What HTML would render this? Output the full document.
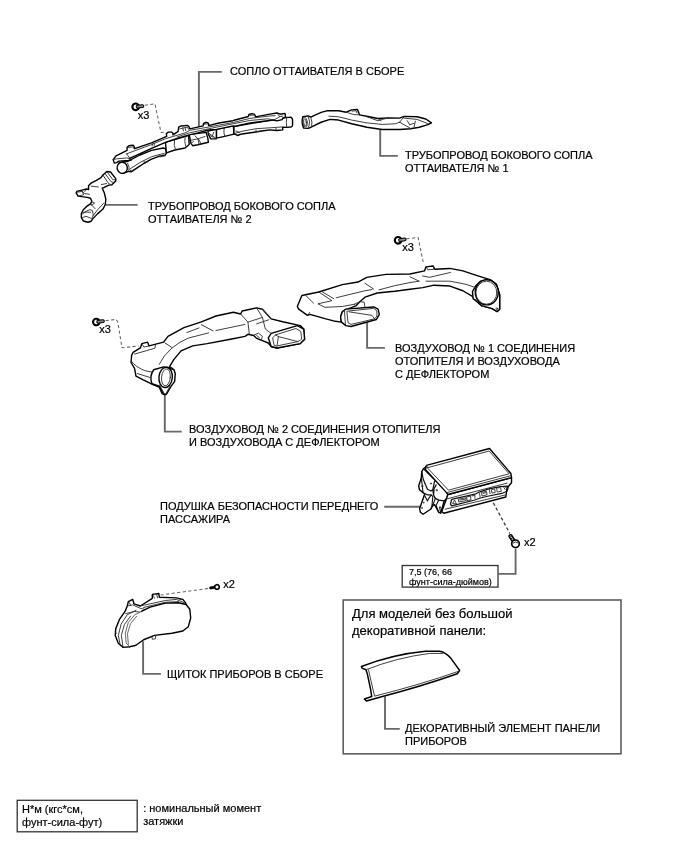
<!DOCTYPE html>
<html><head><meta charset="utf-8">
<style>
html,body{margin:0;padding:0;background:#fff;}
body{width:688px;height:852px;overflow:hidden;font-family:"Liberation Sans",sans-serif;}
svg{display:block;position:absolute;left:0;top:0;}
text{font-family:"Liberation Sans",sans-serif;fill:#000;stroke:#000;stroke-width:0.2px;}
.t{font-size:11px;}
.s{font-size:9px;}
.b{font-size:13px;}
.l{stroke:#686868;stroke-width:1.9;fill:none;}
.d{stroke:#666;stroke-width:1.05;fill:none;stroke-dasharray:3.2 2.4;}
.p{vector-effect:non-scaling-stroke;stroke:#000;stroke-width:1.4;fill:#fff;stroke-linejoin:round;stroke-linecap:round;}
.n{vector-effect:non-scaling-stroke;stroke:#2a2a2a;stroke-width:0.9;fill:none;stroke-linejoin:round;stroke-linecap:round;}
.box{stroke:#333;stroke-width:1.3;fill:none;}
</style></head>
<body>
<svg style="will-change:transform;filter:grayscale(1)" width="688" height="852" viewBox="0 0 688 852">
<!-- TEXT -->
<g id="labels">
<text class="t" x="230" y="74.8">СОПЛО ОТТАИВАТЕЛЯ В СБОРЕ</text>
<text class="t" x="137.7" y="118.5">x3</text>
<text class="t" x="405" y="158.8">ТРУБОПРОВОД БОКОВОГО СОПЛА</text>
<text class="t" x="405" y="171.8">ОТТАИВАТЕЛЯ № 1</text>
<text class="t" x="148" y="209.8">ТРУБОПРОВОД БОКОВОГО СОПЛА</text>
<text class="t" x="148" y="222.7">ОТТАИВАТЕЛЯ № 2</text>
<text class="t" x="402.2" y="250.5">x3</text>
<text class="t" x="99.2" y="332.5">x3</text>
<text class="t" x="395" y="351.7">ВОЗДУХОВОД № 1 СОЕДИНЕНИЯ</text>
<text class="t" x="395" y="364.7">ОТОПИТЕЛЯ И ВОЗДУХОВОДА</text>
<text class="t" x="395" y="377.7">С ДЕФЛЕКТОРОМ</text>
<text class="t" x="189" y="432.8">ВОЗДУХОВОД № 2 СОЕДИНЕНИЯ ОТОПИТЕЛЯ</text>
<text class="t" x="189" y="445.8">И ВОЗДУХОВОДА С ДЕФЛЕКТОРОМ</text>
<text class="t" x="160" y="509.7">ПОДУШКА БЕЗОПАСНОСТИ ПЕРЕДНЕГО</text>
<text class="t" x="160" y="522.7">ПАССАЖИРА</text>
<text class="t" x="524" y="545.8">x2</text>
<text class="t" x="223.2" y="588">x2</text>
<text class="s" x="409" y="574.6">7,5 (76, 66</text>
<text class="s" x="409" y="585.2">фунт-сила-дюймов)</text>
<text class="b" x="352" y="618">Для моделей без большой</text>
<text class="b" x="352" y="634.6">декоративной панели:</text>
<text class="t" x="167" y="678">ЩИТОК ПРИБОРОВ В СБОРЕ</text>
<text class="t" x="405" y="731.7">ДЕКОРАТИВНЫЙ ЭЛЕМЕНТ ПАНЕЛИ</text>
<text class="t" x="405" y="745.3">ПРИБОРОВ</text>
<text class="t" x="22" y="812.7">Н*м (кгс*см,</text>
<text class="t" x="22" y="826">фунт-сила-фут)</text>
<text class="t" x="143.2" y="812">: номинальный момент</text>
<text class="t" x="143.2" y="824.8">затяжки</text>
</g>
<!-- BOXES -->
<g id="boxes">
<rect class="box" x="402.2" y="565.5" width="95.8" height="21.6"/>
<rect class="box" style="stroke:#5e5e5e;stroke-width:1.6" x="343.2" y="600" width="277.8" height="153.8"/>
<rect class="box" x="17.2" y="800.3" width="120" height="31.5"/>
</g>
<!-- LEADERS -->
<g id="leaders">
<path class="l" d="M221.8 71.85 H198.9 V126.5"/>
<path class="l" d="M397.8 155.9 H380.2 V129"/>
<path class="l" d="M137.6 204.9 H105.5"/>
<path class="l" d="M384.9 347.9 H367.1 V322.3"/>
<path class="l" d="M181.7 431.6 H164.8 V395"/>
<path class="l" d="M384.2 506.8 H420.3"/>
<path class="l" d="M498 573.9 H515.6 V549"/>
<path class="l" d="M160.9 673.9 H143.1 V641.2"/>
<path class="l" d="M399.8 728.9 H385 V696.5"/>
</g>
<!-- DRAWINGS -->
<!-- PART1: defroster nozzle. A-frame origin(105,130) scale 8.6 -->
<g id="p1" transform="translate(105,130) scale(0.11628)">
<!-- left cylinder + duct -->
<path class="p" d="M148 277 L195 270 L300 215 L400 175 L500 155 L520 160 L528 195 L520 215 L470 225 L400 250 L330 290 L270 330 L225 360 L205 356 L148 373 Z"/>
<ellipse class="p" cx="148" cy="325" rx="44" ry="48" transform="rotate(-10 148 325)"/>
<path class="n" d="M195 285 Q215 320 205 356 M215 335 L300 280 L400 230 L510 200 M215 342 L224 354 L250 340 M335 268 L346 286 L372 270 M466 222 L470 232 L518 222"/>
<!-- left box section -->
<path class="p" d="M520 105 L719 45 L724 125 L689 155 L600 172 L528 197 Z"/>
<path class="n" d="M598 90 Q588 135 606 168 M689 60 Q680 100 694 140"/>
<!-- center drop -->
<path class="p" d="M724 40 L739 115 L754 135 L799 127 L889 105 L884 70 L870 20 Z"/>
<path class="n" d="M739 88 L799 76 L809 122 M799 76 L860 56 M774 50 L809 85 L824 116 M745 110 L760 100"/>
<!-- brackets -->
<path class="p" d="M885 10 L889 35 L909 76 L954 76 L959 65 L959 -5 Z"/>
<path class="n" d="M889 25 L924 50 L954 72 M899 46 L930 62 M924 50 L935 20"/>
<!-- right box -->
<path class="p" d="M959 -5 L1104 -35 L1109 35 L1029 55 L959 70 Z"/>
<path class="n" d="M1024 -18 Q1018 20 1029 55"/>
<!-- right duct + cylinder -->
<path class="p" d="M1109 -30 L1448 -90 L1553 -106 L1598 -111 Q1614 -100 1613 -86 L1613 -41 Q1612 -30 1598 -26 L1563 -23 L1528 -24 L1528 -1 L1478 4 L1418 -1 L1348 9 L1298 17 L1178 34 L1139 47 L1109 32 Z"/>
<path class="n" d="M1118 29 L1178 11 L1298 -11 L1418 -19 L1523 -26 M1563 -108 Q1556 -65 1563 -23 M1298 -1 L1302 14 L1346 8 M1470 -14 L1474 2 M1125 8 L1160 24"/>
<!-- rail -->
<path class="p" d="M95 222 L190 175 L190 148 L205 135 L240 130 L250 140 L255 160 L400 110 L530 55 L528 30 L545 18 L575 18 L585 30 L585 42 L629 12 L634 -25 L654 -35 L709 -40 L724 -25 L729 -10 L844 -35 L847 -55 L864 -65 L884 -63 L891 -50 L891 -37 L979 -60 L1099 -80 L1118 -86 L1233 -116 L1238 -133 L1263 -141 L1283 -136 L1293 -121 L1293 -113 L1418 -136 L1478 -146 L1508 -136 L1548 -143 L1553 -111 L1528 -101 L1523 -89 L1478 -79 L1448 -86 L1398 -79 L1248 -61 L1118 -33 L1104 -35 L959 -5 L889 0 L799 25 L724 42 L620 72 L525 104 L400 158 L260 222 L210 245 L225 258 L200 262 L120 268 L100 280 L80 285 L70 255 Z"/>
<path class="n" d="M185 205 L400 125 L520 75 L688 25 L729 3 L889 -25 L1104 -65 L1247 -100 L1418 -121 L1463 -123"/>
<path class="n" d="M620 60 L724 25 L889 -10 L1109 -55 L1248 -82 L1398 -96 L1448 -86 M405 137 L410 118 M420 112 L425 132"/>
<path class="n" d="M70 255 L100 248 L185 240 L210 245 M185 205 L225 258"/>
<path class="n" d="M200 150 L240 145 L250 160 M644 -10 L709 -25 L719 -5 M669 -20 L674 8 M689 -23 L694 5 M855 -50 L880 -52 M1246 -126 L1278 -128 M1478 -146 L1503 -115 L1470 -95 L1448 -86 M1503 -115 L1530 -120"/>
</g>

<!-- PART2: side duct no.1. zoom origin(295,95) scale 4.587 -->
<g id="p2" transform="translate(295,95) scale(0.21802)">
<path class="p" d="M36 100 L60 96 L72 101 L120 80 L150 72 L200 72 L235 79 L260 68 L286 66 L292 80 L296 91 L340 100 L380 108 L430 105 L480 106 L500 98 L560 100 L600 110 L626 128 L610 136 L570 148 L530 155 L480 158 L400 158 L330 148 L260 132 L200 115 L160 112 L120 125 L76 146 L62 153 L40 152 Q28 128 36 100 Z"/>
<ellipse class="n" cx="46" cy="125" rx="10" ry="24" transform="rotate(-8 46 125)"/>
<ellipse class="n" cx="46" cy="126" rx="6" ry="17" transform="rotate(-8 46 126)"/>
<path class="n" d="M60 96 Q74 122 62 153 M72 101 Q82 124 76 146"/>
<path class="n" d="M155 97 L200 100 L260 115 L330 128 L400 135 L460 132 L480 125"/>
<path class="n" d="M235 79 L270 90 L296 91 M262 74 L280 72 L284 82 M330 100 L380 118 L400 112 L430 105 M380 108 L395 118"/>
<path class="n" d="M480 125 L500 100 M480 125 L530 153 M500 106 L560 112 L612 132 M515 118 L526 136 M552 120 L546 148 M526 136 L546 130"/>
</g>

<!-- PART3: side duct no.2. zoom origin(65,160) scale 7.644 -->
<g id="p3" transform="translate(65,160) scale(0.13082)">
<path class="p" d="M320 88 L348 92 L388 142 L388 160 L358 190 L335 192 L300 210 L285 216 L300 250 L312 300 L308 340 L290 375 L250 410 L212 450 L200 468 L175 476 L140 466 L125 440 L125 410 L140 380 L165 355 L195 335 L205 315 L195 292 L170 286 L140 282 L100 276 L85 252 L90 240 L130 230 L165 222 L180 226 L180 196 L200 176 L240 155 L275 135 L290 115 Z"/>
<path class="n" d="M290 116 L335 182 L358 190 M305 102 L352 166 L374 172 M320 88 L365 150 L388 152"/>
<path class="n" d="M200 200 L255 206 M278 188 L318 180"/>
<path class="n" d="M96 246 L130 240 L150 256 L186 262 M130 232 L142 266 L100 276 M150 240 L160 232"/>
<path class="n" d="M130 416 L150 396 L190 380 L210 386 L216 420 L206 446 M134 440 L160 430 L200 446 M140 404 L165 398 L195 400"/>
<path class="n" d="M216 424 L250 380 L296 330 M205 320 L226 330 L200 346 M195 335 L230 372"/>
</g>

<!-- PART4: air duct no.1. zoom origin(290,255) scale 5.733 -->
<g id="p4" transform="translate(290,255) scale(0.17443)">
<path class="p" d="M68 232 L165 212 L300 170 L390 155 L440 128 L551 111 L688 109 L771 91 L780 68 L821 63 L830 82 L917 77 L991 91 L1073 118 L1147 141 L1183 168 L1202 228 L1202 311 L1188 324 L1156 306 L1101 292 L1059 256 L1046 237 L991 205 L917 178 L826 173 L761 187 L688 196 L600 208 L500 218 L430 242 L400 268 L380 290 L330 310 L300 325 L290 355 L295 385 L250 378 L200 365 L115 340 L100 346 L50 310 L42 295 Z"/>
<!-- round outlet -->
<path class="p" d="M1064 178 L1092 150 L1147 141 L1183 168 L1202 228 L1202 311 L1188 324 L1156 306 L1101 292 L1059 256 L1050 251 L1046 210 Z"/>
<ellipse class="p" cx="1128" cy="214" rx="66" ry="72"/>
<ellipse class="n" cx="1126" cy="216" rx="60" ry="66"/>
<circle class="n" cx="1186" cy="308" r="5"/>
<!-- creases -->
<path class="n" d="M165 212 L240 262 L160 280 L200 300 L300 295 L372 282"/>
<path class="n" d="M180 208 L250 250 M265 245 L430 205 L470 198 M510 200 L600 176 L688 158 L740 150 M780 150 L917 150 L1009 168 L1064 187"/>
<path class="n" d="M90 232 L135 276 M430 162 L480 196 M760 120 L800 128 L920 100 M100 346 L112 330 M688 125 L740 150"/>
<path class="n" d="M781 67 L790 85 L825 82 L821 63"/>
<!-- vent -->
<path class="p" d="M295 385 L290 355 L300 325 L320 310 L480 298 L505 310 L512 340 L495 370 L350 410 L320 405 Z"/>
<path class="n" d="M328 322 L480 306 L498 320 L498 350 L485 366 L350 398 L335 390 Z M340 326 L470 346 L485 366 M312 318 L318 400"/>
<path class="n" d="M370 282 L400 268 L425 270 L430 300"/>
</g>

<!-- PART5: air duct no.2. zoom origin(120,300) scale 3.44 -->
<g id="p5" transform="translate(120,300) scale(0.2907)">
<path class="p" d="M45 180 L70 165 L75 150 L95 145 L100 158 L150 145 L165 125 L220 95 L280 75 L330 55 L390 42 L415 48 L420 38 L470 27 L490 32 L520 65 L560 75 L620 88 L632 100 L635 135 L620 150 L540 165 L520 160 L510 148 L490 140 L470 132 L460 122 L440 118 L430 125 L380 135 L300 150 L250 158 L210 175 L185 205 L170 230 L180 235 L188 250 L185 280 L170 300 L162 308 L155 326 L145 322 L135 300 L115 292 L80 275 L55 262 L50 235 L38 215 L40 190 Z"/>
<!-- round outlet -->
<path class="p" d="M116 240 L150 230 L172 234 L186 240 L190 254 L188 280 L175 298 L160 324 L150 324 L135 296 L110 288 Q100 262 116 240 Z"/>
<ellipse class="p" cx="157" cy="266" rx="23" ry="35" transform="rotate(6 157 266)"/>
<ellipse class="n" cx="158" cy="266" rx="15" ry="29" transform="rotate(6 158 266)"/>
<path class="n" d="M136 292 L152 322 M172 296 L158 322 M176 236 L188 242"/>
<!-- vent right -->
<path class="p" d="M520 160 L510 130 L520 115 L610 88 L632 100 L635 135 L620 150 L540 165 Z"/>
<path class="n" d="M530 155 L525 130 L535 120 L605 98 L622 108 L625 135 L612 143 L540 158 Z M545 126 L600 140 L612 143 M535 120 L545 126 L540 158"/>
<!-- collar -->
<path class="n" d="M415 48 L440 76 L445 118 M440 76 L490 60 M470 27 L490 60 L500 100 L520 115 M470 82 L512 68 M490 32 L520 65"/>
<path class="n" d="M462 120 L476 114 L490 125 L486 138 M470 122 L480 130"/>
<!-- creases -->
<path class="n" d="M280 85 L320 106 M330 105 L430 84 M230 112 L272 96 M75 150 L82 162 L100 158"/>
<path class="n" d="M50 186 L120 166 L122 156 M155 148 L178 163 M135 221 Q150 190 178 166 Q200 146 235 131 L305 113 M40 211 Q50 228 85 243 L110 248 M60 253 L108 268"/>
</g>

<!-- PART6: airbag. zoom origin(400,440) scale 4.914 -->
<g id="p6" transform="translate(400,440) scale(0.2035)">
<!-- left brackets (sub-frame origin(410,460) scale 11.47) -->
<g transform="translate(49.14,98.28) scale(0.4284)">
<path class="p" d="M155 100 L135 132 L130 205 L100 295 L108 340 L150 375 L170 388 L165 402 L110 560 L120 600 L150 622 L240 562 L262 522 L282 512 L330 600 L352 610 L392 470 L422 440 L452 340 L185 75 Z"/>
<path class="n" style="stroke-width:1.25;stroke:#111" d="M150 215 L180 290 L200 335 L240 356 L262 340 L280 252 L292 236 M150 215 L135 132 M155 100 L292 236"/>
<path class="n" style="stroke-width:1.25;stroke:#111" d="M300 285 L276 330 L270 400 L290 440 L330 460 L392 470 M262 340 L270 400"/>
<path class="n" style="stroke-width:1.1;stroke:#111" d="M165 402 L200 470 L215 440 L245 400 L262 420 L252 520 L240 562 M170 388 L200 400 L245 400 M130 205 L150 375 M290 440 L262 522 M330 460 L300 520 L330 600 M352 610 L340 540"/>
<circle class="n" cx="240" cy="270" r="7"/><circle class="n" cx="306" cy="346" r="7"/><circle class="n" cx="140" cy="300" r="7"/>
<circle class="n" cx="156" cy="490" r="4"/><circle class="n" cx="136" cy="550" r="4"/><circle class="n" cx="346" cy="542" r="4"/>
</g>
<!-- front face -->
<path class="p" d="M235 268 L548 185 L548 210 L526 236 L520 280 L215 360 L205 352 L228 290 Z"/>
<path class="n" d="M228 290 L526 212 M222 340 L518 270"/>
<g transform="translate(196.6,172) scale(0.5714)">
<path class="n" style="stroke-width:1.25;stroke:#111" d="M100 210 L300 165 L330 150 L420 120 L520 100 L580 95 L586 110 L576 140 L540 155 L400 185 L340 200 L300 215 L100 265 L90 250 Z"/>
<path class="n" d="M110 242 L125 216 L140 246 Z M160 208 L220 196 L225 220 L165 232 Z M172 216 L212 208 M232 188 L262 182 L266 214 L236 220 Z M275 180 L300 175 L300 200 M340 160 L345 190 M360 150 L400 140 L405 170 L365 180 Z M372 158 L395 152 M425 125 L430 160 M445 125 L470 120 L475 150 L450 155 Z M490 112 L520 108 L528 140 L495 146 Z M545 100 L560 125 M560 98 L575 120"/>
</g>
<!-- top face -->
<path class="p" d="M130 125 L440 42 L545 165 L548 185 L235 268 L225 255 L125 145 Z"/>
<path class="n" d="M136 136 L438 54 L536 166 L240 246 Z M232 258 L546 175 M130 125 L136 136"/>
</g>

<!-- PART7: instrument cluster. zoom origin(100,570) scale 4.587 -->
<g id="p7" transform="translate(100,570) scale(0.21802)">
<path class="p" d="M136 352 L106 355 L84 336 L70 300 L72 270 L90 225 L115 190 L125 165 L130 145 L150 135 L156 155 L185 165 L240 130 L240 112 L270 108 L272 125 L350 128 L380 135 L392 150 L396 160 L300 200 L150 330 Z"/>
<path class="n" d="M92 340 L84 300 L97 248 L125 205 L165 185 M106 355 L98 300 L112 250 L140 212 M125 165 L150 160 L185 176 L205 180 L195 195 L160 190 L118 200 M135 150 L140 162 M185 165 L300 140 L350 135 L386 150 M200 172 L300 148 L360 145 M245 118 L250 130 M260 112 L264 128 M70 285 L76 290 M360 132 L372 136"/>
<path d="M190 190 L230 170 L300 152 L360 150 L395 158 L412 180 L416 220 L405 260 L380 280 L330 290 L250 300 L200 320 L165 345 L136 352 L120 335 L116 290 L130 240 L160 205 Z" fill="#fff" stroke="none"/>
<path class="p" style="fill:none" d="M190 190 L230 170 L300 152 L360 150 L395 158 L412 180 L416 220 L405 260 L380 280 L330 290 L250 300 L200 320 L165 345 L136 352"/>
<path class="n" style="stroke-width:0.8;stroke:#444" d="M136 352 L120 335 L116 290 L130 240 L160 205 L190 190 M130 340 L126 292 L140 246 L168 212"/>
<path class="n" d="M238 304 L240 318 L255 315 L255 300"/>
</g>

<!-- PART8: decorative element. zoom origin(340,640) scale 4.914 -->
<g id="p8" transform="translate(340,640) scale(0.2035)">
<path class="p" style="stroke-width:1.5" d="M105 130 Q260 70 420 55 L490 55 Q520 60 545 90 L570 125 L588 150 L576 166 Q400 228 200 280 L130 300 L120 290 L156 278 L150 240 L135 170 L128 146 L108 138 Z"/>
<path class="n" d="M128 146 Q280 86 440 66 L505 66 M140 146 L152 200 L170 276 Q400 218 582 154"/>
</g>

<!-- SCREWS + DASHES -->
<g id="dashes">
<path class="d" d="M144.8 105.3 L154.9 103.7 L161 132.5 L164 132.3"/>
<path class="d" d="M406.4 238.8 L418.1 237.5 L423.6 264"/>
<path class="d" d="M105.5 320.7 L116 319.4 L117.7 321.6 L122 347.7 L139 346"/>
<path class="d" style="stroke:#3a3a3a;stroke-width:1.3" d="M493.3 502.8 L509.8 533.4"/>
<path class="d" d="M160.5 595.1 L208.9 588.3"/>
</g>
<g id="screws">
<g transform="translate(135.7,106.8) rotate(-6)"><circle r="3.3" fill="#fff" stroke="#000" stroke-width="2.1"/><rect x="0.5" y="-1.4" width="7.6" height="2.8" rx="1.4" fill="#888" stroke="#000" stroke-width="1"/></g>
<g transform="translate(398.1,240.3) rotate(-8)"><circle r="3.3" fill="#fff" stroke="#000" stroke-width="2.1"/><rect x="0.5" y="-1.4" width="7.6" height="2.8" rx="1.4" fill="#888" stroke="#000" stroke-width="1"/></g>
<g transform="translate(96.3,322) rotate(-8)"><circle r="3.3" fill="#fff" stroke="#000" stroke-width="2.1"/><rect x="0.5" y="-1.4" width="7.6" height="2.8" rx="1.4" fill="#888" stroke="#000" stroke-width="1"/></g>
<g transform="translate(515.5,543.8)"><g transform="rotate(-123)"><rect x="2" y="-1.5" width="8.5" height="3" rx="1.2" fill="#bbb" stroke="#000" stroke-width="1.3"/><path d="M4.5 -1.5V1.5M6.5 -1.5V1.5M8.5 -1.5V1.5" stroke="#000" stroke-width="0.7"/></g><circle r="3.8" fill="#fff" stroke="#000" stroke-width="1.7"/><path d="M-2.6 -0.5 Q0 -3 2.6 -0.8" stroke="#000" stroke-width="0.8" fill="none"/></g>
<g transform="translate(217,587) rotate(172)"><rect x="2" y="-1.1" width="5.6" height="2.2" rx="1.1" fill="#000" stroke="#000" stroke-width="0.6"/><circle r="2.3" fill="#fff" stroke="#000" stroke-width="1.7"/></g>
</g>


</svg>
</body></html>
